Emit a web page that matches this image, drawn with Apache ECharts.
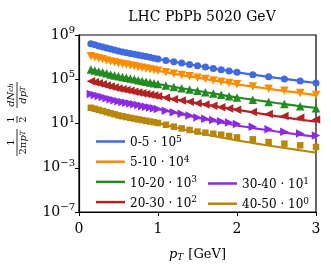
<!DOCTYPE html>
<html>
<head>
<meta charset="utf-8">
<script src="https://cdn.jsdelivr.net/npm/echarts@6/dist/echarts.min.js"></script>
<style>html,body{margin:0;padding:0;background:#fff}#c{width:331px;height:269px}</style>
</head>
<body>
<div id="c"></div>
<script>
const titleText = 'LHC PbPb 5020 GeV';
const centralityLabels = ['0-5', '5-10', '10-20', '20-30', '30-40', '40-50'];
const scaleExps = [5, 4, 3, 2, 1, 0];
const colors = ['#4169E1', '#FF8C00', '#228B22', '#B22222', '#8A2BE2', '#B8860B'];
const xTicks = [0, 1, 2, 3];
const yTickExps = [-7, -3, 1, 5, 9];

// measured pT bin centres
const pT = [0.15,0.2,0.25,0.3,0.35,0.4,0.45,0.5,0.55,0.6,0.65,0.7,0.75,0.8,0.85,0.9,0.95,1.0,
            1.1,1.2,1.3,1.4,1.5,1.6,1.7,1.8,1.9,2.0,2.2,2.4,2.6,2.8,3.0];
// data (scaled)
const data0_5   = [1.58e8,1.29e8,1.02e8,8.3e7,6.6e7,5.4e7,4.3e7,3.5e7,2.95e7,2.5e7,2.14e7,1.82e7,1.55e7,1.32e7,1.12e7,9.5e6,8.1e6,6.9e6,
                   5.0e6,3.8e6,2.9e6,2.2e6,1.66e6,1.26e6,9.5e5,7.2e5,5.5e5,4.2e5,2.6e5,1.66e5,1.07e5,6.9e4,4.6e4];
const data5_10  = [1.20e7,9.8e6,7.8e6,6.3e6,5.0e6,4.1e6,3.4e6,2.8e6,2.45e6,2.1e6,1.78e6,1.51e6,1.29e6,1.10e6,9.3e5,7.9e5,6.8e5,5.8e5,
                   4.2e5,3.2e5,2.4e5,1.82e5,1.38e5,1.05e5,7.9e4,6.0e4,4.6e4,3.5e4,2.2e4,1.38e4,8.9e3,5.8e3,3.8e3];
const data10_20 = [7.6e5,6.3e5,5.1e5,4.2e5,3.4e5,2.75e5,2.24e5,1.82e5,1.58e5,1.35e5,1.15e5,9.8e4,8.3e4,7.1e4,6.0e4,5.1e4,4.4e4,3.7e4,
                   2.7e4,2.04e4,1.55e4,1.17e4,8.9e3,6.8e3,5.1e3,3.9e3,2.95e3,2.24e3,1.41e3,890,575,372,245];
const data20_30 = [6.6e4,5.4e4,4.3e4,3.5e4,2.75e4,2.24e4,1.78e4,1.45e4,1.23e4,1.05e4,8.9e3,7.6e3,6.5e3,5.5e3,4.7e3,4.0e3,3.4e3,2.9e3,
                   2.1e3,1.58e3,1.2e3,910,690,525,400,300,230,174,112,72,48,33,23];
const data30_40 = [4.7e3,3.8e3,3.0e3,2.45e3,1.95e3,1.58e3,1.26e3,1.02e3,870,740,630,540,460,390,330,280,240,204,
                   145,105,76,52,35.5,26.3,20.4,15.8,12.0,9.1,5.2,3.0,1.82,1.26,0.83];
const data40_50 = [263,214,170,135,107,85,68,54,45,38,32,27.5,23.4,20.5,17.6,15.2,13.1,11.2,
                   7.6,5.2,3.6,2.6,1.86,1.48,1.2,0.98,0.74,0.56,0.37,0.21,0.15,0.107,0.076];

// model curves
const lineX = [0.15,0.25,0.5,0.75,1.0,1.25,1.5,1.75,2.0,2.25,2.5,2.75,3.0];
const model0_5   = [1.58e8,1.02e8,3.5e7,1.55e7,6.9e6,3.3e6,1.66e6,8.3e5,4.2e5,2.34e5,1.32e5,7.8e4,4.6e4];
const model5_10  = [1.20e7,7.8e6,2.8e6,1.29e6,5.8e5,2.75e5,1.38e5,6.9e4,3.5e4,1.95e4,1.10e4,6.5e3,3.7e3];
const model10_20 = [7.6e5,5.1e5,1.82e5,8.3e4,3.7e4,1.78e4,8.9e3,4.5e3,2.24e3,1.26e3,710,417,251];
const model20_30 = [6.6e4,4.3e4,1.45e4,6.5e3,2.9e3,1.38e3,690,347,174,89,46,25,14.5];
const model30_40 = [4.7e3,3.0e3,1.02e3,460,204,83,33,14.5,6.6,3.5,1.9,1.07,0.63];
const model40_50 = [263,170,54,23.4,10.5,4.0,1.48,0.63,0.30,0.151,0.079,0.043,0.023];

const dataSets = [data0_5, data5_10, data10_20, data20_30, data30_40, data40_50];
const modelSets = [model0_5, model5_10, model10_20, model20_30, model30_40, model40_50];
const symbols = ['circle', 'triangle', 'triangle', 'triangle', 'triangle', 'rect'];
const symbolRot = [0, 180, 0, 90, -90, 0];
const symbolSizes = [7, 8.5, 8.5, 8.5, 8.5, 6.5];

const serif = 'DejaVu Serif';
const chart = echarts.init(document.getElementById('c'), null, {renderer: 'canvas'});

const series = [];
modelSets.forEach((m, i) => {
  series.push({
    name: centralityLabels[i], type: 'line', data: lineX.map((x, k) => [x, m[k]]),
    showSymbol: false, smooth: 0.3, lineStyle: {color: colors[i], width: 2.2}, itemStyle: {color: colors[i]},
    z: 2, animation: false, silent: true
  });
});
dataSets.forEach((d, i) => {
  series.push({
    name: 'data ' + centralityLabels[i], type: 'scatter', data: pT.map((x, k) => [x, d[k]]),
    symbol: symbols[i], symbolRotate: symbolRot[i], symbolSize: symbolSizes[i],
    itemStyle: {color: colors[i], opacity: 1}, z: 3, animation: false, silent: true
  });
});

const supRich = {sup: {fontSize: 9, fontFamily: serif, verticalAlign: 'top', padding: [0, 0, 7, 0], color: '#000'}};
function legendFmt(name) {
  const i = centralityLabels.indexOf(name);
  return name + ' \u00b7 10{sup|' + scaleExps[i] + '}';
}
const legendCommon = {
  orient: 'vertical', icon: 'rect', itemWidth: 29, itemHeight: 2.5, itemGap: 6.2,
  formatter: legendFmt, selectedMode: false,
  textStyle: {fontFamily: serif, fontSize: 12, color: '#000', padding: [3, 0, 0, 0], rich: supRich}
};

const italicRich = {
  i: {fontFamily: serif, fontStyle: 'italic', fontSize: 13, color: '#000'},
  s: {fontFamily: serif, fontStyle: 'italic', fontSize: 9, color: '#000', verticalAlign: 'bottom', padding: [6, 0, 0, 0]},
  n: {fontFamily: serif, fontSize: 13, color: '#000', padding: [0, 0, 0, 5]}
};
const yRich = {
  i: {fontFamily: serif, fontStyle: 'italic', fontSize: 10, color: '#000'},
  s: {fontFamily: serif, fontStyle: 'italic', fontSize: 7, color: '#000'},
  n: {fontFamily: serif, fontSize: 10, color: '#000'}
};

function fracText(x, y, txt, top) {
  return {type: 'text', x: x, y: y, style: {
    text: txt, rich: yRich, font: '10px ' + serif, fill: '#000',
    align: 'center', textAlign: 'center',
    verticalAlign: top ? 'top' : 'bottom', textVerticalAlign: top ? 'top' : 'bottom'
  }};
}

chart.setOption({
  animation: false,
  title: {text: titleText, left: 197, top: 5, textAlign: 'center',
    textStyle: {fontFamily: serif, fontWeight: 'normal', fontSize: 14, color: '#000'}},
  grid: {left: 79, right: 15, top: 35, bottom: 57, show: true, borderColor: '#000', borderWidth: 1.2, containLabel: false},
  xAxis: {
    type: 'value', min: xTicks[0], max: xTicks[xTicks.length - 1], interval: 1,
    axisLine: {show: true, lineStyle: {color: '#000', width: 1.2}},
    axisTick: {show: true, inside: false, length: 4, lineStyle: {color: '#000', width: 1}},
    axisLabel: {fontFamily: serif, fontSize: 14, color: '#000', margin: 10},
    splitLine: {show: false},
    name: '{i|p}{s|T}{n|[GeV]}', nameLocation: 'middle', nameGap: 35,
    nameTextStyle: {rich: italicRich}
  },
  yAxis: {
    type: 'log', logBase: 10, min: Math.pow(10, yTickExps[0]), max: Math.pow(10, yTickExps[yTickExps.length - 1]), interval: 4,
    axisLine: {show: true, lineStyle: {color: '#000', width: 1.2}},
    axisTick: {show: true, inside: false, length: 4, lineStyle: {color: '#000', width: 1}},
    minorTick: {show: false},
    axisLabel: {
      fontFamily: serif, fontSize: 14, color: '#000', margin: 4,
      formatter: function (v) {
        const e = Math.round(Math.log10(v));
        return '10{sup|' + (e < 0 ? '\u2212' + (-e) : e) + '}';
      },
      rich: {sup: {fontSize: 10, fontFamily: serif, color: '#000', verticalAlign: 'top', padding: [0, 0, 9, 0]}}
    },
    splitLine: {show: false}
  },
  legend: [
    Object.assign({}, legendCommon, {data: centralityLabels.slice(0, 4), left: 91, top: 130}),
    Object.assign({}, legendCommon, {data: centralityLabels.slice(4), left: 203, top: 172})
  ],
  graphic: [{
    type: 'group', x: 17, y: 120, rotation: Math.PI / 2,
    children: [
      {type: 'line', shape: {x1: -36, y1: 0, x2: -9, y2: 0}, style: {stroke: '#000', lineWidth: 0.8}},
      fracText(-22.5, -1, '{n|1}', false),
      fracText(-22.5, 1, '{n|2π}{i|p}{s|T}', true),
      {type: 'line', shape: {x1: -3, y1: 0, x2: 4, y2: 0}, style: {stroke: '#000', lineWidth: 0.8}},
      fracText(0.5, -1, '{n|1}', false),
      fracText(0.5, 1, '{n|2}', true),
      {type: 'line', shape: {x1: 12, y1: 0, x2: 38, y2: 0}, style: {stroke: '#000', lineWidth: 0.8}},
      fracText(25, -1, '{i|dN}{s|ch}', false),
      fracText(25, 1, '{i|dp}{s|T}', true)
    ]
  }],
  series: series
});
</script>
</body>
</html>
